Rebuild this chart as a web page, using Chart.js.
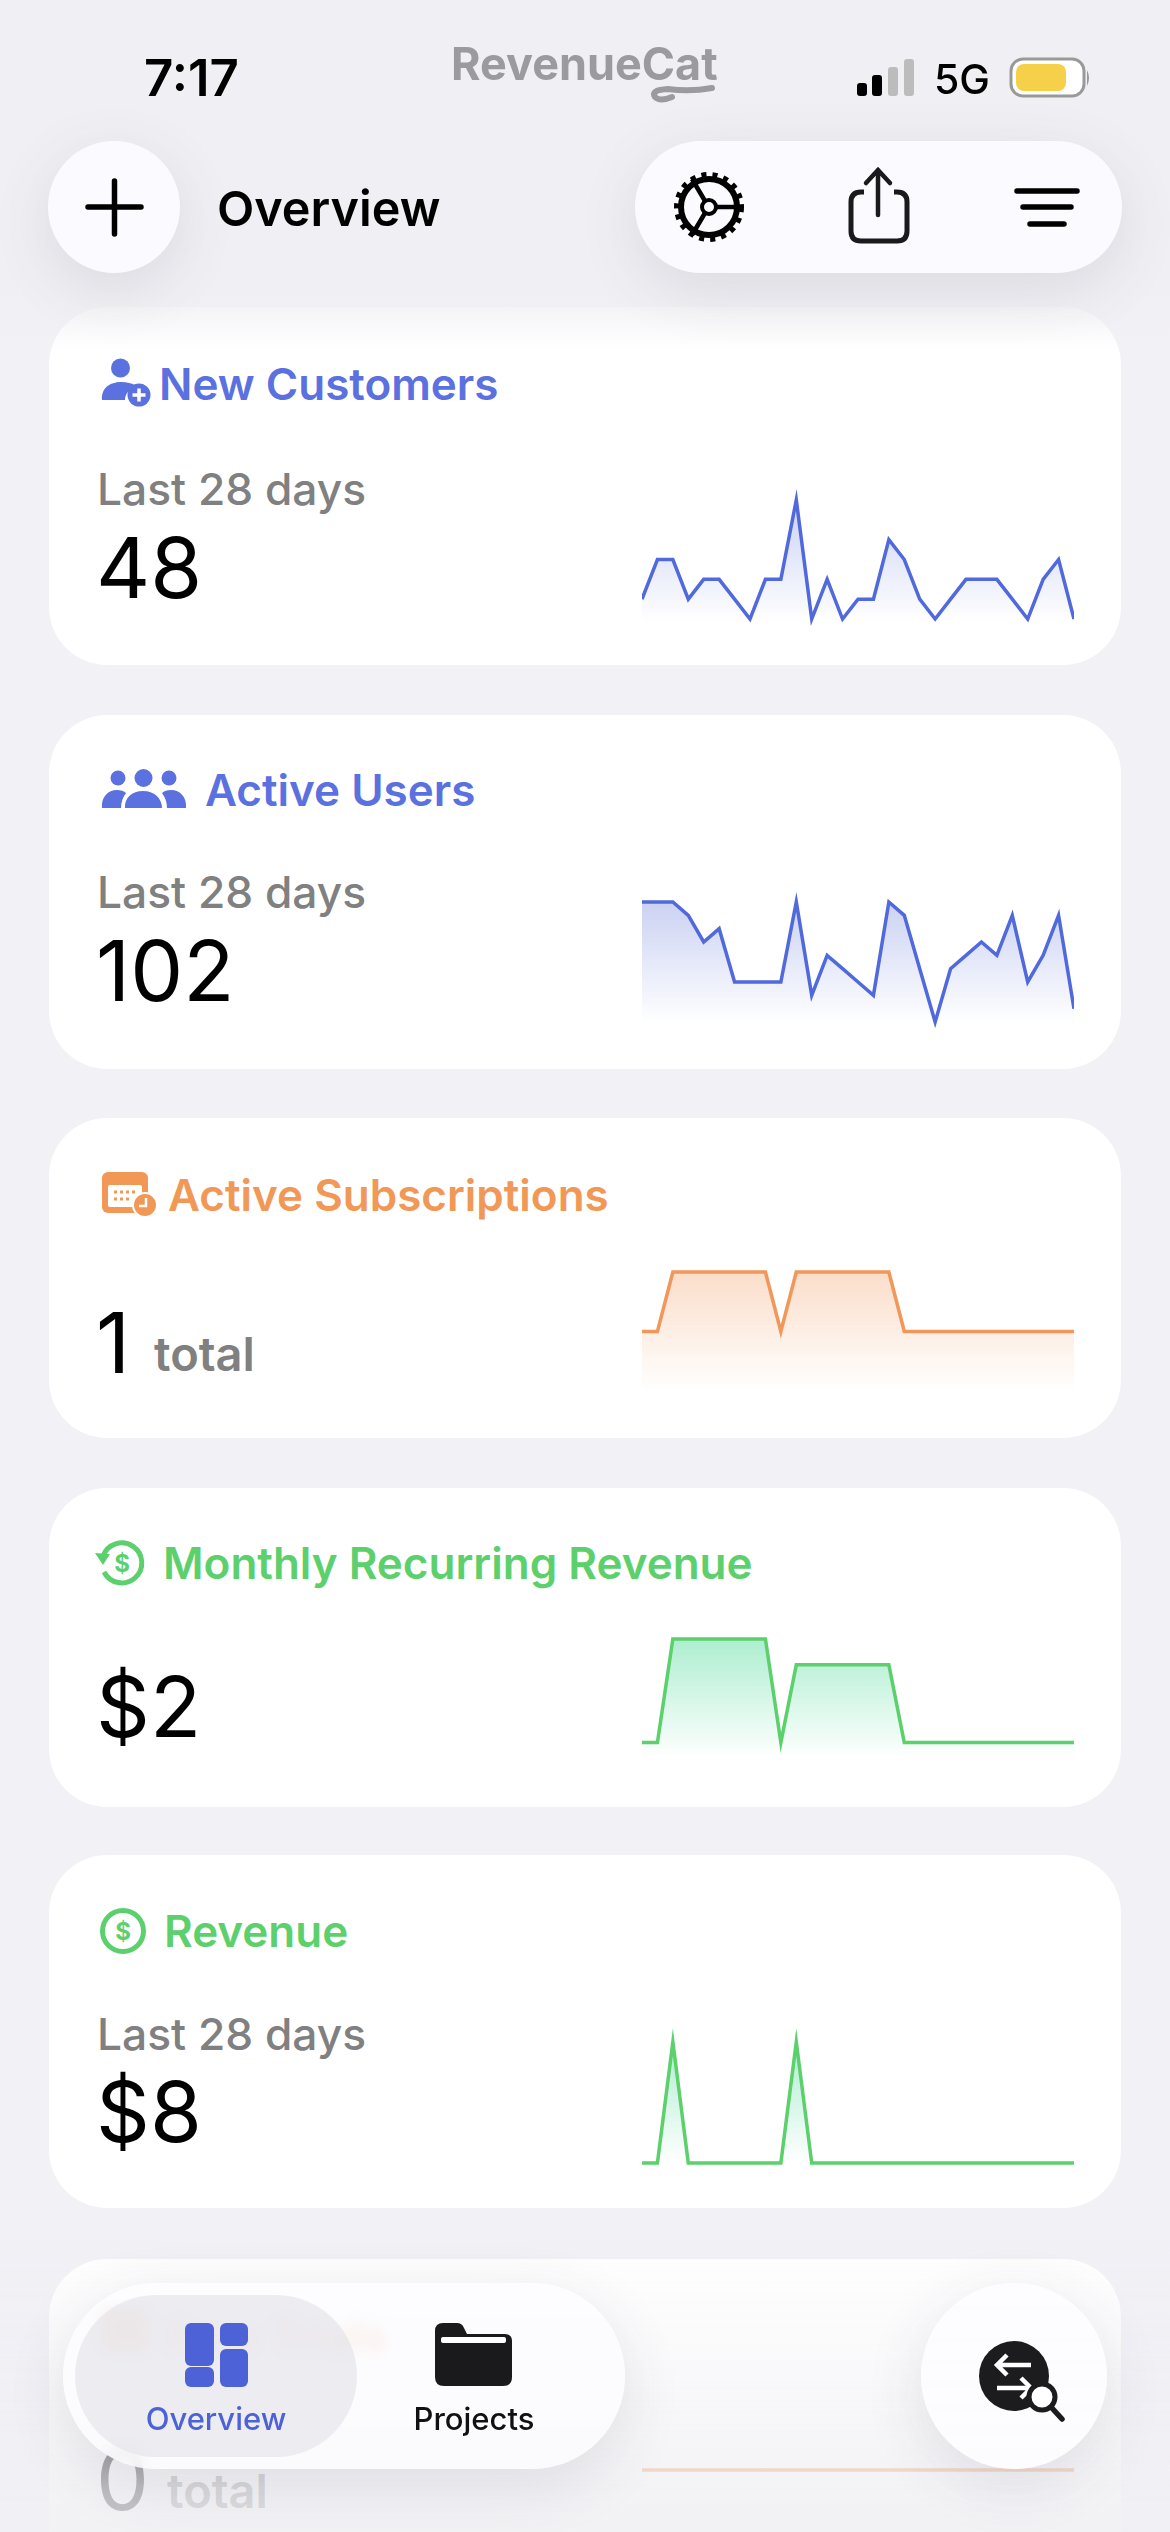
<!DOCTYPE html>
<html>
<head>
<title>Overview</title>
<script src="https://cdn.jsdelivr.net/npm/chart.js"></script>
<style>
html, body { margin: 0; padding: 0; width: 1170px; height: 2532px; overflow: hidden; background: #f1f1f6; font-family: Inter, sans-serif; }
.card { position: absolute; left: 49px; width: 1072px; background: #fff; border-radius: 58px; }
canvas { position: absolute; left: 642px; }
svg { position: absolute; left: 0; top: 0; }
.fade { position: absolute; left: 0; width: 1170px; }
.pill { position: absolute; background: #fbfbff; box-shadow: 0 16px 60px rgba(60,60,80,.12); }
.t { font-weight: 600; font-size: 44px; }
.s { font-weight: 500; font-size: 44.300px; fill: #808080; }
.n { font-weight: 400; font-size: 84px; fill: #000; }
.tot { font-weight: 600; font-size: 47px; fill: #808080; }
</style>
</head>
<body>
<div class="card" style="top:307px;height:358px"></div>
<div class="card" style="top:715px;height:354px"></div>
<div class="card" style="top:1118px;height:320px"></div>
<div class="card" style="top:1488px;height:319px"></div>
<div class="card" style="top:1855px;height:353px"></div>
<div class="card" style="top:2259px;height:340px"></div>

<svg width="1170" height="2532">
  <!-- New Customers -->
  <g fill="#5b71e0">
    <circle cx="120.5" cy="368" r="9.5"/>
    <path d="M102 400c-1-12 8-18 19-18 6 0 11 1 15 4-7 3-11 8-11 14z"/>
    <circle cx="139" cy="395" r="11.5"/>
  </g>
  <path d="M139 388.500v13M132.500 395h13" stroke="#fff" stroke-width="3.500"/>
  <text class="t" x="159" y="400" fill="#5b71e0">New Customers</text>
  <text class="s" x="97" y="505">Last 28 days</text>
  <text class="n" x="96" y="598">48</text>

  <!-- Active Users -->
  <g fill="#5b71e0">
    <circle cx="118" cy="778" r="7.500"/><circle cx="143.500" cy="778" r="9"/><circle cx="169" cy="778" r="7.500"/>
    <path d="M102 808c-1-11 6-18 15-18 4 0 7 1 9 3-3 4-5 9-5 15z"/>
    <path d="M125 808c-1-10 7-17 18-17s19 7 19 17z"/>
    <path d="M186 808c1-11-6-18-15-18-4 0-7 1-9 3 3 4 5 9 5 15z"/>
  </g>
  <text class="t" x="205" y="806" fill="#5b71e0">Active Users</text>
  <text class="s" x="97" y="908">Last 28 days</text>
  <text class="n" x="96" y="1001">102</text>

  <!-- Active Subscriptions -->
  <rect x="102" y="1172" width="46" height="41" rx="6" fill="#f29857"/>
  <rect x="108" y="1185" width="34" height="22" rx="2" fill="#fff"/>
  <path d="M114 1192h22M114 1199h18" stroke="#f29857" stroke-width="3" stroke-dasharray="3 3"/>
  <circle cx="145" cy="1205" r="12" fill="#f29857" stroke="#fff" stroke-width="2"/>
  <path d="M146 1198v8h-7" fill="none" stroke="#fff" stroke-width="2.500"/>
  <text class="t" x="168" y="1211" fill="#f29857">Active Subscriptions</text>
  <text class="n" x="96" y="1373">1</text>
  <text class="tot" x="154" y="1371">total</text>

  <!-- Monthly Recurring Revenue -->
  <path d="M103 1556a20 20 0 1 1 1 16" fill="none" stroke="#5dd06e" stroke-width="5"/>
  <path d="M95 1553l15 1-7 11z" fill="#5dd06e"/>
  <text x="122" y="1572" font-size="24" font-weight="700" text-anchor="middle" fill="#5dd06e">$</text>
  <text class="t" x="163" y="1579" fill="#5dd06e">Monthly Recurring Revenue</text>
  <text class="n" x="96" y="1737">$2</text>

  <!-- Revenue -->
  <circle cx="123" cy="1931" r="20.500" fill="none" stroke="#5dd06e" stroke-width="5"/>
  <text x="123" y="1940" font-size="24" font-weight="700" text-anchor="middle" fill="#5dd06e">$</text>
  <text class="t" x="164" y="1947" fill="#5dd06e">Revenue</text>
  <text class="s" x="97" y="2050">Last 28 days</text>
  <text class="n" x="96" y="2142">$8</text>

  <!-- Free Trials, mostly behind the tab bar -->
  <rect x="102" y="2310" width="46" height="41" rx="6" fill="#f29857"/>
  <text class="t" x="166" y="2352" fill="#f29857">Free Trials</text>
  <text class="n" x="96" y="2510">0</text>
  <text class="tot" x="167" y="2508">total</text>
</svg>

<canvas id="c1" width="432" height="169" style="top:476px"></canvas>
<canvas id="c2" width="432" height="168" style="top:878px"></canvas>
<canvas id="c3" width="432" height="167" style="top:1248px"></canvas>
<canvas id="c4" width="432" height="167" style="top:1615px"></canvas>
<canvas id="c5" width="432" height="169" style="top:2018px"></canvas>
<canvas id="c6" width="432" height="68" style="top:2436px"></canvas>

<div class="fade" style="top:0;height:352px;background:linear-gradient(#f0f0f4 0,#f0f0f4 82%,rgba(240,240,244,0) 100%)"></div>
<div class="fade" style="top:2240px;height:292px;background:linear-gradient(rgba(240,240,244,.05) 0,rgba(240,240,244,.3) 35%,rgba(240,240,244,.78) 85%,rgba(240,240,244,.85) 100%)"></div>

<div class="pill" style="left:48px;top:141px;width:132px;height:132px;border-radius:50%"></div>
<div class="pill" style="left:635px;top:141px;width:487px;height:132px;border-radius:66px"></div>
<div class="pill" style="left:63px;top:2283px;width:562px;height:186px;border-radius:93px;background:rgba(253,253,255,.8);backdrop-filter:blur(7px)"></div>
<div class="pill" style="left:75px;top:2295px;width:282px;height:162px;border-radius:81px;background:rgba(226,226,232,.62);box-shadow:none"></div>
<div class="pill" style="left:921px;top:2283px;width:186px;height:186px;border-radius:50%;background:rgba(253,253,255,.95)"></div>

<svg width="1170" height="2532">
  <text x="144" y="96" font-size="51" font-weight="600" fill="#000">7:17</text>
  <text x="451" y="80" font-size="45" font-weight="700" fill="#9a9a9f">RevenueCat</text>
  <path d="M712 88Q690 92 668 89Q650 90 655 97Q660 102 672 97" fill="none" stroke="#9a9a9f" stroke-width="6" stroke-linecap="round"/>
  <rect x="857" y="83" width="10" height="13" rx="3"/><rect x="872" y="75" width="10" height="21" rx="3"/>
  <rect x="888" y="67" width="10" height="29" rx="3" fill="#bcbcbc"/><rect x="904" y="59" width="10" height="37" rx="3" fill="#bcbcbc"/>
  <text x="934" y="94" font-size="41" font-weight="500">5G</text>
  <rect x="1011" y="59" width="73" height="37" rx="12" fill="#fff" stroke="#999" stroke-width="3"/>
  <rect x="1016" y="64" width="50" height="27" rx="8" fill="#f7d04a"/>
  <path d="M1087 70q4 8 0 16z" fill="#999"/>

  <path d="M88 207h53M114.500 181v53" stroke="#000" stroke-width="5.500" stroke-linecap="round"/>
  <text x="217" y="226" font-size="48.500" font-weight="600" fill="#000">Overview</text>

  <circle cx="709" cy="207" r="28" fill="none" stroke="#000" stroke-width="6"/>
  <circle cx="709" cy="207" r="32" fill="none" stroke="#000" stroke-width="6" stroke-dasharray="5 6"/>
  <circle cx="709" cy="207" r="7" fill="none" stroke="#000" stroke-width="4"/>
  <path d="M716 207h21M705 201l-13-22M705 213l-13 22" stroke="#000" stroke-width="4.500"/>

  <path d="M864 192h-3q-10 0-10 10v29q0 10 10 10h36q10 0 10-10v-29q0-10-10-10h-3" fill="none" stroke="#1a1a1c" stroke-width="5"/>
  <path d="M878 215v-45M866 183l12-13 12 13" fill="none" stroke="#1a1a1c" stroke-width="4.500" stroke-linecap="round"/>

  <path d="M1017 191h60M1023 207h48M1030 224h34" stroke="#000" stroke-width="5.500" stroke-linecap="round"/>

  <g fill="#4c62d6">
    <rect x="185" y="2323" width="29" height="43" rx="6"/><rect x="185" y="2367" width="29" height="20" rx="6"/>
    <rect x="220" y="2323" width="28" height="23" rx="6"/><rect x="220" y="2349" width="28" height="38" rx="6"/>
  </g>
  <text x="216" y="2430" font-size="31" font-weight="500" text-anchor="middle" fill="#4c62d6">Overview</text>

  <path d="M435 2331q0-8 8-8h14q5 0 7 5l3 6h38q7 0 7 7v36q0 9-9 9h-59q-9 0-9-9z" fill="#1a1a1c"/>
  <rect x="441" y="2337" width="65" height="6" rx="2" fill="#fff"/>
  <text x="474" y="2430" font-size="31" font-weight="500" text-anchor="middle" fill="#111">Projects</text>

  <circle cx="1014" cy="2376" r="35" fill="#1c1c1e"/>
  <path d="M1031 2365h-34M1007 2355l-10 10 10 10M997 2388h34M1021 2378l10 10-10 10" fill="none" stroke="#fff" stroke-width="4.500"/>
  <circle cx="1042" cy="2397" r="13" fill="#fff" stroke="#1c1c1e" stroke-width="5"/>
  <path d="M1051 2407l11 12" stroke="#1c1c1e" stroke-width="5.500" stroke-linecap="round"/>
</svg>

<script>
const days = ['1','2','3','4','5','6','7','8','9','10','11','12','13','14','15','16','17','18','19','20','21','22','23','24','25','26','27','28','29'];

const newCustomers = [2,4,4,2,3,3,2,1,3,3,7,1,3,1,2,2,5,4,2,1,2,3,3,3,2,1,3,4,1];
const activeUsers = [10,10,10,9,7,8,4,4,4,4,10,3,6,5,4,3,10,9,5,1,5,6,7,6,9,4,6,9,2];
const activeSubscriptions = [1,1,2,2,2,2,2,2,2,1,2,2,2,2,2,2,2,1,1,1,1,1,1,1,1,1,1,1,1];
const monthlyRevenue = [2,2,6,6,6,6,6,6,6,2,5,5,5,5,5,5,5,2,2,2,2,2,2,2,2,2,2,2,2];
const revenue = [0,0,4,0,0,0,0,0,0,0,4,0,0,0,0,0,0,0,0,0,0,0,0,0,0,0,0,0,0];
const freeTrials = [0,0,0,0,0,0,0,0,0,0,0,0,0,0,0,0,0,0,0,0,0,0,0,0,0,0,0,0,0];

const PAD = 24; // room above and below the plot for the line's spiky joins

function spark(id, values, yMin, yMax, lineColor, fillRgb, fillAlpha) {
    new Chart(document.getElementById(id), {
        type: 'line',
        data: {
            labels: days,
            datasets: [{
                data: values,
                borderColor: lineColor,
                borderWidth: 3.5,
                pointRadius: 0,
                tension: 0,
                fill: 'start',
                clip: { left: 0, right: 0, top: PAD, bottom: PAD },
                backgroundColor: function (c) {
                    const area = c.chart.chartArea;
                    if (!area) return 'transparent';
                    const g = c.chart.ctx.createLinearGradient(0, area.top, 0, area.bottom);
                    g.addColorStop(0, 'rgba(' + fillRgb + ',' + fillAlpha + ')');
                    g.addColorStop(1, 'rgba(' + fillRgb + ',0)');
                    return g;
                }
            }]
        },
        options: {
            responsive: false,
            animation: false,
            layout: { padding: { top: PAD, bottom: PAD } },
            plugins: { legend: { display: false }, tooltip: { enabled: false } },
            scales: {
                x: { display: false, offset: false },
                y: { display: false, min: yMin, max: yMax }
            }
        }
    });
}

spark('c1', newCustomers, 0.9, 7, '#5069dc', '84,105,212', 0.3);
spark('c2', activeUsers, 1, 10, '#5069dc', '84,105,212', 0.3);
spark('c3', activeSubscriptions, 0, 2, '#f2975a', '242,151,90', 0.32);
spark('c4', monthlyRevenue, 1.4, 6, '#5bd06b', '52,212,137', 0.4);
spark('c5', revenue, 0, 4, '#5bd06b', '52,212,137', 0.4);
spark('c6', freeTrials, -1, 1, '#f2975a', '242,151,90', 0);
</script>
</body>
</html>
